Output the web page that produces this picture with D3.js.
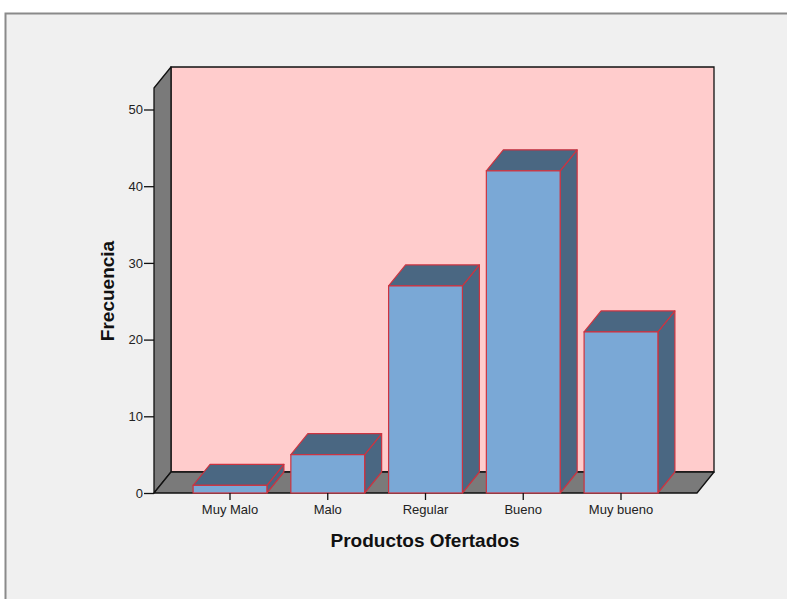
<!DOCTYPE html>
<html>
<head>
<meta charset="utf-8">
<script src="https://cdn.jsdelivr.net/npm/d3@7/dist/d3.min.js"></script>
<style>
  html, body { margin: 0; padding: 0; background: #ffffff; }
  svg { display: block; }
  text { font-family: "Liberation Sans", Arial, sans-serif; }
</style>
</head>
<body>
<svg id="chart" width="787" height="599"></svg>
<script>
// Frecuencia por categoría de "Productos Ofertados"
const categories = ["Muy Malo", "Malo", "Regular", "Bueno", "Muy bueno"];
const frequencies = [1, 5, 27, 42, 21];
const yTicks = [0, 10, 20, 30, 40, 50];
const yMax = 52.8;
const xTitle = "Productos Ofertados";
const yTitle = "Frecuencia";

const svg = d3.select("#chart");
const W = 787, H = 599;

// outer panel
svg.append("rect").attr("x", 0).attr("y", 0).attr("width", W).attr("height", H).attr("fill", "#ffffff");
svg.append("rect").attr("x", 5.5).attr("y", 13.5).attr("width", W + 10).attr("height", H + 10)
  .attr("fill", "#f0f0f0").attr("stroke", "#8a8a8a").attr("stroke-width", 2);

// plot frame (front plane) and depth offset
const plotLeft = 154, plotRight = 697, plotBottom = 493;
const dx = 17, dy = -21;

const x = d3.scaleBand().domain(categories).range([plotLeft, plotRight])
  .paddingInner(0.245).paddingOuter(0.4);
const y = d3.scaleLinear().domain([0, yMax]).range([plotBottom, plotBottom - yMax * 7.67]);
const plotTop = y(yMax);

const pts = a => a.map(p => p.join(",")).join(" ");

// back wall
svg.append("polygon")
  .attr("points", pts([[plotLeft + dx, plotTop + dy], [plotRight + dx, plotTop + dy], [plotRight + dx, plotBottom + dy], [plotLeft + dx, plotBottom + dy]]))
  .attr("fill", "#ffcccc").attr("stroke", "#111").attr("stroke-width", 1.3);
// side wall
svg.append("polygon")
  .attr("points", pts([[plotLeft, plotBottom], [plotLeft, plotTop], [plotLeft + dx, plotTop + dy], [plotLeft + dx, plotBottom + dy]]))
  .attr("fill", "#7a7a7a").attr("stroke", "#111").attr("stroke-width", 1.3).attr("stroke-linejoin", "round");
// floor
svg.append("polygon")
  .attr("points", pts([[plotLeft, plotBottom], [plotRight, plotBottom], [plotRight + dx, plotBottom + dy], [plotLeft + dx, plotBottom + dy]]))
  .attr("fill", "#7a7a7a").attr("stroke", "#111").attr("stroke-width", 1.3).attr("stroke-linejoin", "round");

// bars
const barStroke = "#cc3340";
const bars = svg.append("g").selectAll("g").data(categories.map((c, i) => ({ c, v: frequencies[i] })))
  .join("g");
bars.each(function (d) {
  const g = d3.select(this);
  const x0 = x(d.c), x1 = x(d.c) + x.bandwidth();
  const y0 = y(0), y1 = y(d.v);
  g.append("polygon")
    .attr("points", pts([[x1, y1], [x1 + dx, y1 + dy], [x1 + dx, y0 + dy], [x1, y0]]))
    .attr("fill", "#4a6782").attr("stroke", barStroke).attr("stroke-width", 1.2).attr("stroke-linejoin", "round");
  g.append("polygon")
    .attr("points", pts([[x0, y1], [x0 + dx, y1 + dy], [x1 + dx, y1 + dy], [x1, y1]]))
    .attr("fill", "#4a6782").attr("stroke", barStroke).attr("stroke-width", 1.2).attr("stroke-linejoin", "round");
  g.append("rect")
    .attr("x", x0).attr("y", y1).attr("width", x1 - x0).attr("height", y0 - y1)
    .attr("fill", "#7aa8d6").attr("stroke", barStroke).attr("stroke-width", 1.2);
});

// y axis
const yAxis = d3.axisLeft(y).tickValues(yTicks).tickSize(10).tickPadding(1).tickSizeOuter(0);
const gy = svg.append("g").attr("transform", `translate(${plotLeft},0)`).call(yAxis);
gy.select(".domain").remove();
gy.selectAll(".tick line").attr("stroke", "#111").attr("stroke-width", 1.3);
gy.selectAll(".tick text").attr("fill", "#222").style("font-size", "13px").style("font-family", "'Liberation Sans', Arial, sans-serif");

// x axis
const xAxis = d3.axisBottom(x).tickSize(7).tickPadding(5).tickSizeOuter(0);
const gx = svg.append("g").attr("transform", `translate(0,${plotBottom})`).call(xAxis);
gx.select(".domain").remove();
gx.selectAll(".tick line").attr("stroke", "#111").attr("stroke-width", 1.3);
gx.selectAll(".tick text").attr("fill", "#222").style("font-size", "13px").style("font-family", "'Liberation Sans', Arial, sans-serif");

// axis titles
svg.append("text").attr("x", 425).attr("y", 547).attr("text-anchor", "middle")
  .style("font-size", "19px").style("font-weight", "bold").attr("fill", "#111").text(xTitle);
svg.append("text").attr("transform", "translate(114,291) rotate(-90)").attr("text-anchor", "middle")
  .style("font-size", "19px").style("font-weight", "bold").attr("fill", "#111").text(yTitle);
</script>
</body>
</html>
